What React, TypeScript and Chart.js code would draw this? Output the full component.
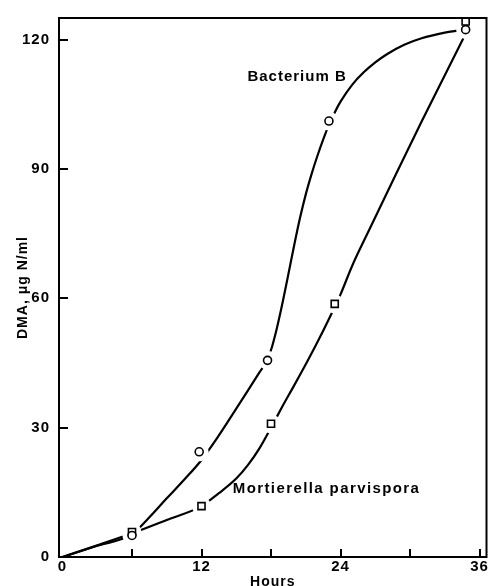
import React, { useEffect, useRef } from "react";
import { Chart, registerables } from "chart.js";

Chart.register(...registerables);

// Axis ticks
const X_TICK_LABELS = [0, 12, 24, 36];
const X_TICK_MARKS = [6, 12, 18, 24, 30, 36];
const Y_TICK_LABELS = [0, 30, 60, 90, 120];
const Y_TICK_MARKS = [30, 60, 90, 120];

// Series names
const BACT_NAME = "Bacterium B";
const MORT_NAME = "Mortierella parvispora";

// Measured points (hours, DMA µg N/ml)
const BACT_HOURS = [6, 11.8, 17.7, 23.0, 34.8];
const BACT_DMA = [5.0, 24.4, 45.6, 101.1, 122.3];
const MORT_HOURS = [6, 12.0, 18.0, 23.5, 34.8];
const MORT_DMA = [5.8, 11.8, 30.9, 58.7, 124.2];

// Hand-drawn fitted curves
const BACT_CURVE_HOURS = [0, 3, 6, 7.5, 9, 10.5, 12, 13.5, 15, 16, 17, 17.5, 18, 18.5, 19, 19.5, 20, 20.5, 21, 21.5, 22, 22.5, 23, 23.5, 24, 25, 26, 27, 28, 29.5, 31, 33, 34.8];
const BACT_CURVE_DMA = [0, 2.6, 5.3, 9.2, 13.6, 17.9, 22.5, 28.2, 34.4, 38.6, 42.8, 44.9, 48.0, 53.0, 59.0, 65.6, 72.3, 78.6, 84.1, 88.8, 93.0, 96.8, 100.2, 103.1, 105.6, 109.5, 112.4, 114.7, 116.6, 118.8, 120.3, 121.6, 122.4];
const MORT_CURVE_HOURS = [0, 3, 6, 9, 12, 13.5, 15, 16, 17, 18, 19, 20, 21, 22, 23, 24, 25, 26.5, 28.75, 31, 34.7];
const MORT_CURVE_DMA = [0, 2.7, 5.5, 8.6, 11.8, 14.8, 18.2, 21.3, 25.2, 30.0, 35.0, 39.8, 44.7, 49.8, 55.2, 60.9, 67.5, 76.0, 88.6, 101.0, 120.8];

const FONT = '"Liberation Sans", Arial, sans-serif';

const pts = (xs: number[], ys: number[]) => xs.map((x, i) => ({ x, y: ys[i] }));

const framePlugin = {
  id: "frameAndLabels",
  beforeDraw(chart: any) {
    chart.ctx.letterSpacing = "1px";
  },
  afterDatasetsDraw(chart: any) {
    const { ctx, chartArea: a, scales } = chart;
    const x = scales.x;
    const y = scales.y;
    ctx.save();
    ctx.strokeStyle = "#000";
    ctx.lineWidth = 2;
    ctx.strokeRect(a.left, a.top, a.right - a.left, a.bottom - a.top);
    ctx.beginPath();
    X_TICK_MARKS.forEach((v) => {
      const px = Math.round(x.getPixelForValue(v));
      ctx.moveTo(px, a.bottom);
      ctx.lineTo(px, a.bottom - 8);
    });
    Y_TICK_MARKS.forEach((v) => {
      const py = Math.round(y.getPixelForValue(v));
      ctx.moveTo(a.left, py);
      ctx.lineTo(a.left + 9, py);
    });
    ctx.stroke();

    const labels = chart.options.plugins.frameAndLabels.labels;
    ctx.fillStyle = "#000";
    ctx.font = `bold 15px ${FONT}`;
    ctx.textAlign = "left";
    ctx.textBaseline = "middle";
    labels.forEach((l: any) => {
      ctx.letterSpacing = l.spacing;
      ctx.fillText(l.text, x.getPixelForValue(l.x), y.getPixelForValue(l.y));
    });
    ctx.restore();
  },
};

export default function App() {
  const ref = useRef<HTMLCanvasElement | null>(null);

  useEffect(() => {
    if (!ref.current) return;
    const chart = new Chart(ref.current, {
      type: "line",
      data: {
        datasets: [
          {
            label: BACT_NAME + " curve",
            data: pts(BACT_CURVE_HOURS, BACT_CURVE_DMA),
            borderColor: "#000",
            borderWidth: 2.2,
            pointRadius: 0,
            cubicInterpolationMode: "monotone",
            fill: false,
            order: 3,
          },
          {
            label: MORT_NAME + " curve",
            data: pts(MORT_CURVE_HOURS, MORT_CURVE_DMA),
            borderColor: "#000",
            borderWidth: 2.2,
            pointRadius: 0,
            cubicInterpolationMode: "monotone",
            fill: false,
            order: 3,
          },
          {
            label: "gap",
            data: [...pts(BACT_HOURS, BACT_DMA), ...pts(MORT_HOURS, MORT_DMA)],
            showLine: false,
            pointRadius: 9.5,
            pointBackgroundColor: "#ffffff",
            pointBorderWidth: 0,
            pointBorderColor: "#ffffff",
            order: 2,
            clip: false,
          },
          {
            label: BACT_NAME,
            data: pts(BACT_HOURS, BACT_DMA),
            showLine: false,
            pointStyle: "circle",
            pointRadius: 4,
            pointBorderWidth: 1.6,
            pointBorderColor: "#000",
            pointBackgroundColor: "#fff",
            order: 1,
            clip: false,
          },
          {
            label: MORT_NAME,
            data: pts(MORT_HOURS, MORT_DMA),
            showLine: false,
            pointStyle: "rect",
            pointRadius: 5,
            pointBorderWidth: 1.6,
            pointBorderColor: "#000",
            pointBackgroundColor: "#fff",
            order: 1,
            clip: false,
          },
        ],
      },
      options: {
        responsive: false,
        animation: false,
        events: [],
        layout: { padding: { left: 0, right: 4, top: 12, bottom: 0 } },
        plugins: {
          legend: { display: false },
          tooltip: { enabled: false },
          frameAndLabels: {
            labels: [
              { text: BACT_NAME, x: 15.96, y: 111.4, spacing: "1px" },
              { text: MORT_NAME, x: 14.7, y: 15.8, spacing: "1.4px" },
            ],
          },
        } as any,
        scales: {
          x: {
            type: "linear",
            min: -0.3,
            max: 36.6,
            grid: { display: false, drawTicks: false },
            border: { display: false },
            afterBuildTicks: (s: any) => {
              s.ticks = X_TICK_LABELS.map((v) => ({ value: v }));
            },
            afterFit: (s: any) => {
              s.height = 37;
            },
            ticks: {
              autoSkip: false,
              maxRotation: 0,
              padding: 1,
              color: "#000",
              font: { family: FONT, size: 15, weight: "bold" },
            },
            title: {
              display: true,
              text: "Hours",
              color: "#000",
              font: { family: FONT, size: 14, weight: "bold" },
              padding: { top: 0, bottom: 3 },
            },
          },
          y: {
            type: "linear",
            min: 0,
            max: 125,
            grid: { display: false, drawTicks: false },
            border: { display: false },
            afterBuildTicks: (s: any) => {
              s.ticks = Y_TICK_LABELS.map((v) => ({ value: v }));
            },
            afterFit: (s: any) => {
              s.width = 59;
            },
            ticks: {
              autoSkip: false,
              padding: 9,
              color: "#000",
              font: { family: FONT, size: 15, weight: "bold" },
            },
            title: {
              display: true,
              text: "DMA, μg N/ml",
              color: "#000",
              font: { family: FONT, size: 14, weight: "bold" },
              padding: { top: 15, bottom: 0 },
            },
          },
        },
      },
      plugins: [framePlugin],
    } as any);
    return () => chart.destroy();
  }, []);

  return (
    <div
      style={{
        position: "fixed",
        left: 0,
        top: 0,
        width: 496,
        height: 586,
        overflow: "hidden",
        background: "#fff",
      }}
    >
      <canvas ref={ref} width={496} height={594} style={{ display: "block" }} />
    </div>
  );
}
